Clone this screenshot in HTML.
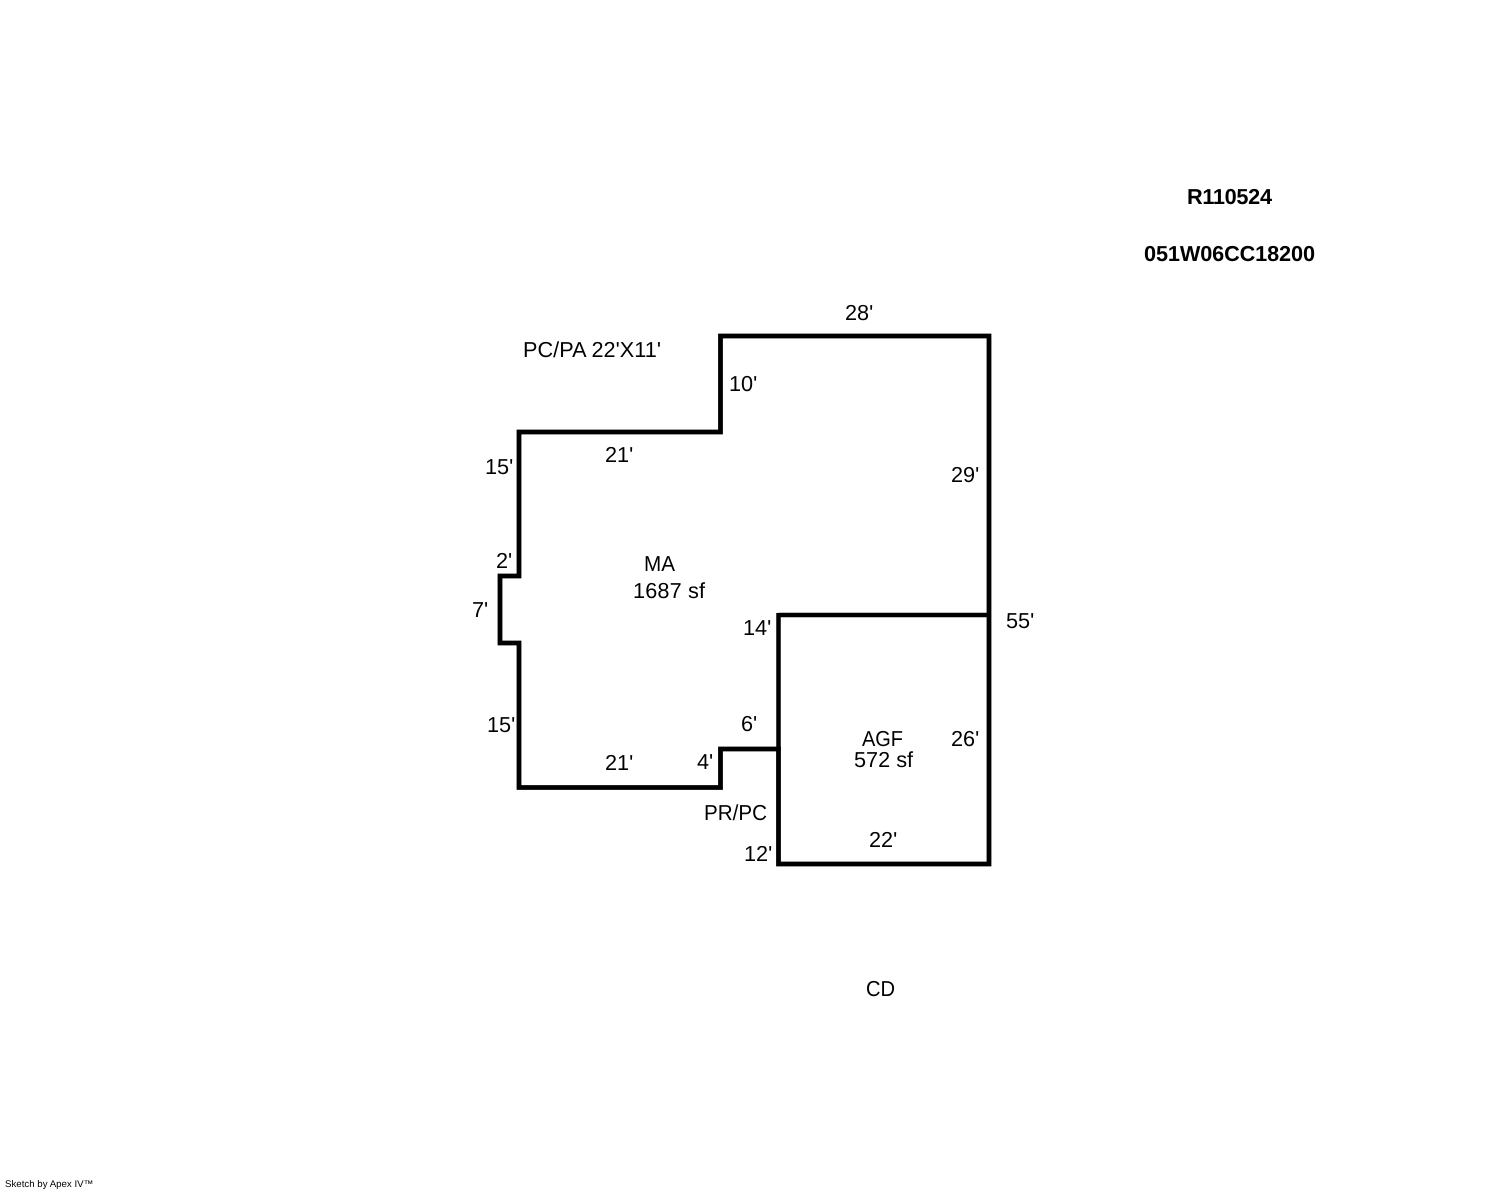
<!DOCTYPE html>
<html>
<head>
<meta charset="utf-8">
<style>
html,body{margin:0;padding:0;background:#fff;width:1488px;height:1190px;overflow:hidden}
svg{display:block}
text{font-family:"Liberation Sans",Arial,sans-serif;font-size:21.7px;fill:#000;text-rendering:geometricPrecision}
</style>
</head>
<body>
<svg width="1488" height="1190" viewBox="0 0 1488 1190" xmlns="http://www.w3.org/2000/svg">
<rect width="1488" height="1190" fill="#fff"/>
<g fill="none" stroke="#000" stroke-linejoin="miter">
<path d="M519 432H720.500V336H989V864H778.500V749H720.500V787.500H519V643H500V576H519Z" stroke-width="4.800"/>
<path d="M778.500 615H989" stroke-width="4.500"/>
<path d="M778.500 613V751" stroke-width="4.500"/>
</g>
<text x="1187" y="204" style="font-weight:bold" textLength="85">R110524</text>
<text x="1144" y="261" style="font-weight:bold" textLength="171">051W06CC18200</text>
<text x="845" y="320">28'</text>
<text x="523" y="357" textLength="138">PC/PA 22'X11'</text>
<text x="729" y="391">10'</text>
<text x="605" y="462">21'</text>
<text x="485" y="474">15'</text>
<text x="951" y="482">29'</text>
<text x="496" y="568">2'</text>
<text x="644" y="571" textLength="31" lengthAdjust="spacingAndGlyphs">MA</text>
<text x="633" y="598" textLength="72">1687 sf</text>
<text x="472" y="617">7'</text>
<text x="1006" y="628">55'</text>
<text x="743" y="635">14'</text>
<text x="741" y="731">6'</text>
<text x="487" y="732">15'</text>
<text x="862" y="746" textLength="41" lengthAdjust="spacingAndGlyphs">AGF</text>
<text x="951" y="746">26'</text>
<text x="854" y="767">572 sf</text>
<text x="605" y="770">21'</text>
<text x="697" y="769">4'</text>
<text x="704" y="820" textLength="63" lengthAdjust="spacingAndGlyphs">PR/PC</text>
<text x="869" y="847">22'</text>
<text x="744" y="861">12'</text>
<text x="866" y="996" textLength="29" lengthAdjust="spacingAndGlyphs">CD</text>
<text x="5" y="1187" style="font-size:9.700px">Sketch by Apex IV™</text>
</svg>
</body>
</html>
